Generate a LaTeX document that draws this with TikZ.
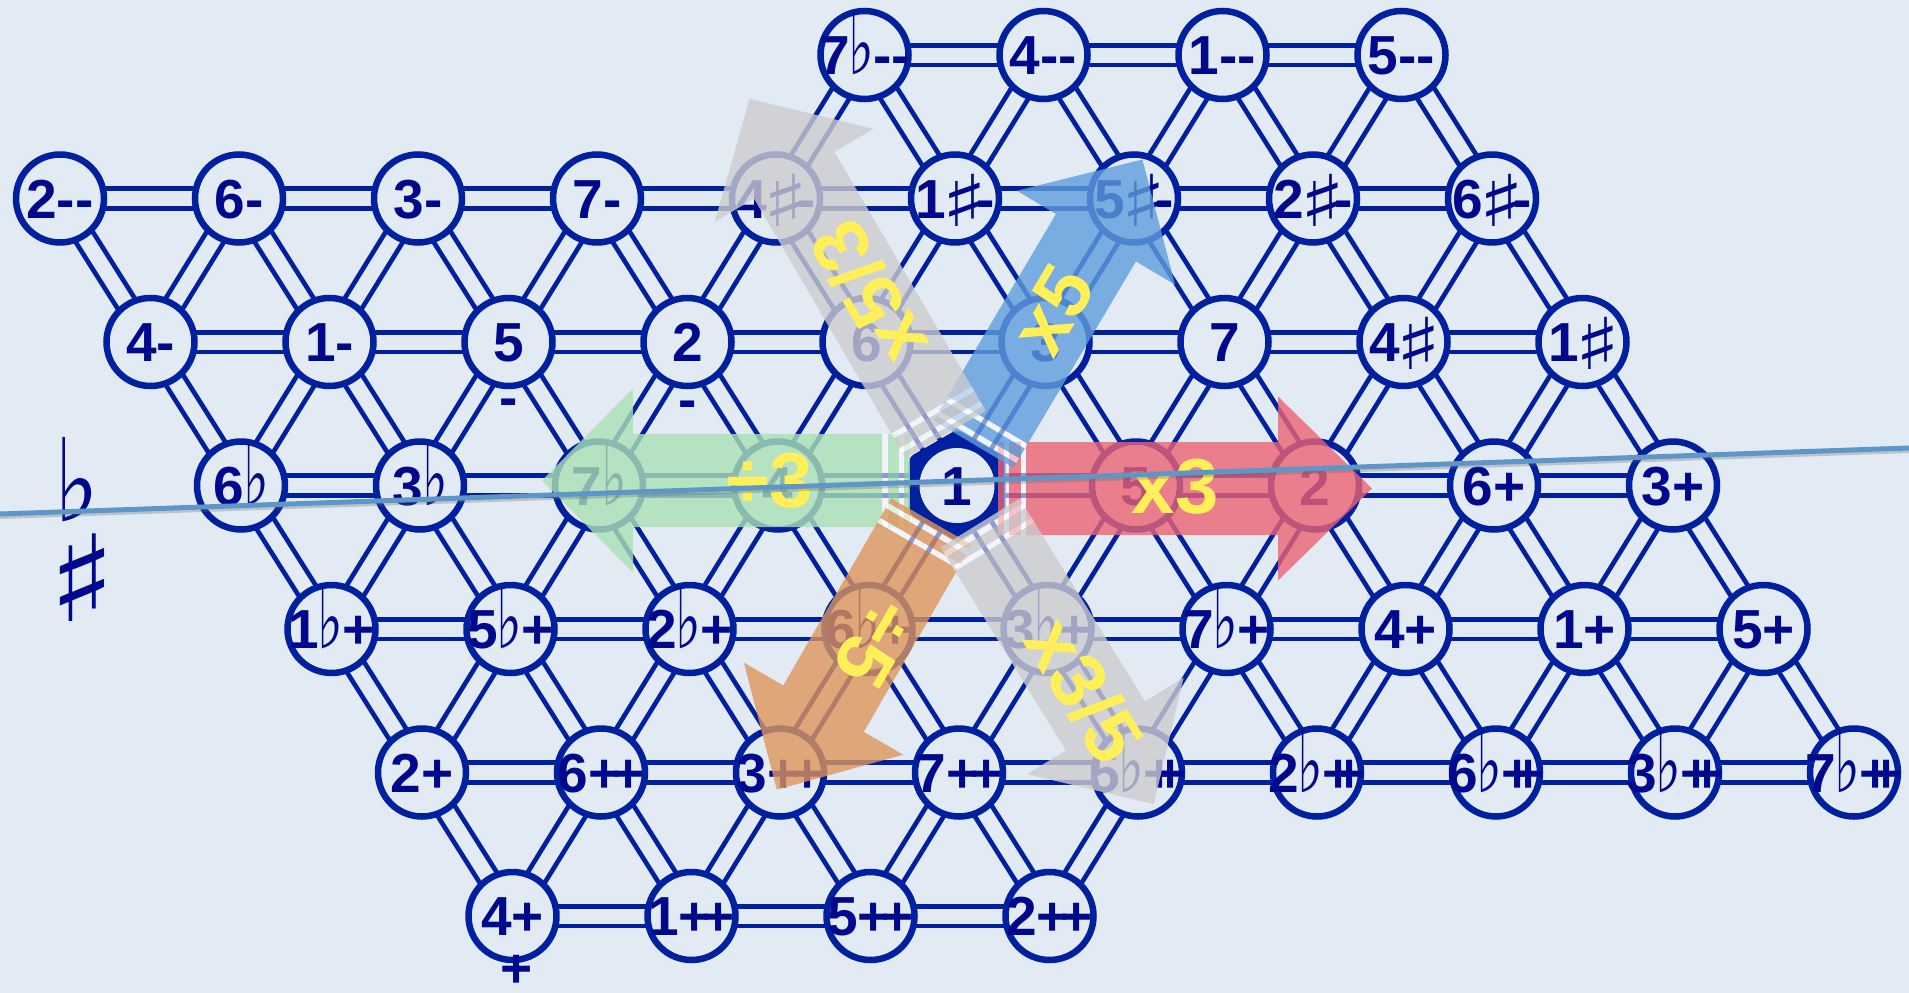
\documentclass[tikz,border=0pt]{standalone}
\usepackage{fontspec}
\setmainfont{Liberation Sans}
\newfontfamily\labfont{Liberation Sans}
\newfontfamily\symfont{DejaVu Sans}
\usetikzlibrary{calc}
\pgfdeclarelayer{back}
\pgfdeclarelayer{edges}
\pgfsetlayers{back,edges,main}
\definecolor{bg}{RGB}{226,234,244}
\definecolor{navy}{RGB}{0,32,160}
\definecolor{txt}{RGB}{0,8,140}
\definecolor{ared}{RGB}{236,99,115}
\definecolor{agreen}{RGB}{170,225,180}
\definecolor{ablue}{RGB}{95,157,219}
\definecolor{agrey}{RGB}{204,204,207}
\definecolor{aorange}{RGB}{221,149,91}
\definecolor{ayellow}{RGB}{255,240,90}
\definecolor{bline}{RGB}{95,150,200}
\newcommand\myflat{\kern-0.02em{\symfont\mdseries\scalebox{1.0}[1.55]{♭}}\kern-0.02em}
\newcommand\mysharp{\kern-0.08em\raisebox{-0.15em}{\symfont\mdseries\scalebox{1.75}[1.3]{♯}}\kern-0.08em}
\newcommand\sharpdash{\mysharp\kern-0.14em-}
\newcommand\ddash{-{}-}
\newcommand\dplus{+\kern-0.15em+}
\newcommand\tplus{+\kern-0.38em+}
\newcommand\lab[1]{\makebox[0pt]{#1}}
\newcommand\fatarrow[6]{%
 \pgfmathsetmacro\ta{#3-46.5}\pgfmathsetmacro\tb{#3+46.5}%
 \pgfmathsetmacro\tc{#3-92}\pgfmathsetmacro\td{#3+92}%
 \pgfmathsetmacro\sa{#4+5.6}\pgfmathsetmacro\sb{#4+11.2}%
 \pgfmathsetmacro\sc{#4+22.5}\pgfmathsetmacro\sd{#4+28}%
 \begin{scope}[shift={(r3c4.center)}, rotate=#2]
  \fill[#1, fill opacity=0.8] (#4,\ta) -- (\sa,\ta) -- (\sa,\tb) -- (#4,\tb) -- cycle;
  \fill[white, fill opacity=0.55] (\sa,\ta) -- (\sb,\ta) -- (\sb,\tb) -- (\sa,\tb) -- cycle;
  \fill[#1, fill opacity=0.8] (\sb,\ta) -- (\sc,\ta) -- (\sc,\tb) -- (\sb,\tb) -- cycle;
  \fill[white, fill opacity=0.55] (\sc,\ta) -- (\sd,\ta) -- (\sd,\tb) -- (\sc,\tb) -- cycle;
  \fill[#1, fill opacity=0.8] (\sd,\ta) -- (#5,\ta) -- (#5,\tc) -- (#6,#3) -- (#5,\td) -- (#5,\tb) -- (\sd,\tb) -- cycle;
 \end{scope}}
\tikzset{
 note/.style={circle, draw=navy, line width=6.5pt, fill=bg, minimum size=88pt, inner sep=0pt,
   text=txt, font=\labfont\bfseries\fontsize{55}{55}\selectfont, text height=39.4pt, text depth=0pt},
 edge/.style={draw=navy, line width=4.8pt, double=bg, double distance=15pt},
 optext/.style={text=ayellow, font=\bfseries\fontsize{78}{78}\selectfont, inner sep=0pt},
 marklab/.style={text=txt, font=\labfont\bfseries\fontsize{55}{55}\selectfont, inner sep=0pt, anchor=base},
 bigsym/.style={text=txt, font=\symfont\fontsize{100}{100}\selectfont, inner sep=0pt}
}
\begin{document}
\begin{tikzpicture}[x=1pt,y=-1pt]
\useasboundingbox (0,0) rectangle (1909,993);
\begin{pgfonlayer}{back}
\fill[bg] (0,0) rectangle (1909,993);
\end{pgfonlayer}
% nodes
\foreach \cc/\lbl in {5/7\myflat\ddash,6/4\ddash,7/1\ddash,8/5\ddash}
  \node[note] (r0c\cc) at ({-30.5+179*\cc},55) {\lab{\lbl}};
\foreach \cc/\lbl in {0/2\ddash,1/6-,2/3-,3/7-,4/4\sharpdash,5/1\sharpdash,6/5\sharpdash,7/2\sharpdash,8/6\sharpdash}
  \node[note] (r1c\cc) at ({60+179*\cc},198.5) {\lab{\lbl}};
\foreach \cc/\lbl in {0/4-,1/1-,2/5,3/2,4/6,5/3,6/7,7/4\mysharp,8/1\mysharp}
  \node[note] (r2c\cc) at ({150.5+179*\cc},342) {\lab{\lbl}};
\foreach \cc/\lbl in {0/6\myflat,1/3\myflat,2/7\myflat,3/4,5/5,6/2,7/6+,8/3+}
  \node[note] (r3c\cc) at ({241+179*\cc},485.5) {\lab{\lbl}};
\foreach \cc/\lbl in {0/1\myflat+,1/5\myflat+,2/2\myflat+,3/6\myflat+,4/3\myflat+,5/7\myflat+,6/4+,7/1+,8/5+}
  \node[note] (r4c\cc) at ({331.5+179*\cc},629) {\lab{\lbl}};
\foreach \cc/\lbl in {0/2+,1/6\dplus,2/3\dplus,3/7\dplus,4/5\myflat\tplus,5/2\myflat\tplus,6/6\myflat\tplus,7/3\myflat\tplus,8/7\myflat\tplus}
  \node[note] (r5c\cc) at ({422+179*\cc},772.5) {\lab{\lbl}};
\foreach \cc/\lbl in {0/4+,1/1\dplus,2/5\dplus,3/2\dplus}
  \node[note] (r6c\cc) at ({512.5+179*\cc},916) {\lab{\lbl}};
% central node
\fill[navy, rounded corners=6pt, shift={(957,485.5)}] (90:56) -- (150:56) -- (210:56) -- (270:56) -- (330:56) -- (30:56) -- cycle;
\node[note, draw=none, minimum size=75pt] (r3c4) at (957,485.5) {\lab{1}};
% edges
\begin{pgfonlayer}{edges}
\foreach \rr/\cs in {0/{5,6,7},1/{0,...,7},2/{0,...,7},3/{0,...,7},4/{0,...,7},5/{0,...,7},6/{0,1,2}}{
  \foreach \cc in \cs {
    \pgfmathtruncatemacro\cn{\cc+1}
    \draw[edge] (r\rr c\cc.center) -- (r\rr c\cn.center);
  }
}
\foreach \rr/\cs in {0/{5,...,8},1/{0,...,8},2/{0,...,8},3/{0,...,8},4/{0,...,8},5/{0,...,3}}{
  \pgfmathtruncatemacro\rn{\rr+1}
  \foreach \cc in \cs {
    \draw[edge] (r\rr c\cc.center) -- (r\rn c\cc.center);
  }
}
\foreach \rr/\cs in {0/{5,...,8},1/{1,...,8},2/{1,...,8},3/{1,...,8},4/{1,...,8},5/{1,...,4}}{
  \pgfmathtruncatemacro\rn{\rr+1}
  \foreach \cc in \cs {
    \pgfmathtruncatemacro\cm{\cc-1}
    \draw[edge] (r\rr c\cc.center) -- (r\rn c\cm.center);
  }
}
\end{pgfonlayer}
% marks
\node[marklab] (m5) at (508.5,416) {-};
\node[marklab] (m2) at (687.5,418) {-};
\node[marklab] (p4) at (517,987) {+};
\node[bigsym] (flatsign) at (77,480) {\scalebox{0.95}[1.15]{♭}};
\node[bigsym] (sharpsign) at (82,578) {\scalebox{1.4}[1.2]{♯}};
% arrows
\fatarrow{ared}{0}{3}{41}{321}{415}
\fatarrow{agreen}{180}{5}{47}{324}{415}
\fatarrow{ablue}{59.3}{-7}{44}{284}{375}
\fatarrow{agrey}{120.3}{16}{50}{350}{438.5}
\fatarrow{aorange}{-120}{4}{44}{260}{353.5}
\fatarrow{agrey}{-58.3}{0}{44}{282.5}{374.5}
% arrow texts
\node[optext] (tx3) at (1175,487) {x3};
\node[optext] (td3) at (770,481) {÷3};
\node[optext, rotate=59.3] (tx5) at (1053,310) {x5};
\node[optext, rotate=120.3] (tx53) at (868,293) {x5/3};
\node[optext, rotate=-120] (td5) at (875,643) {÷5};
\node[optext, rotate=-58.3] (tx35) at (1085,690) {x3/5};
% thin line
\coordinate (L1) at (0,514);
\coordinate (L2) at (1909,448);
\draw[black!60, line width=4pt, opacity=0.3] ([yshift=-3pt]L1) -- ([yshift=-3pt]L2);
\draw[bline, line width=5pt] (L1) -- (L2);
\end{tikzpicture}
\end{document}
